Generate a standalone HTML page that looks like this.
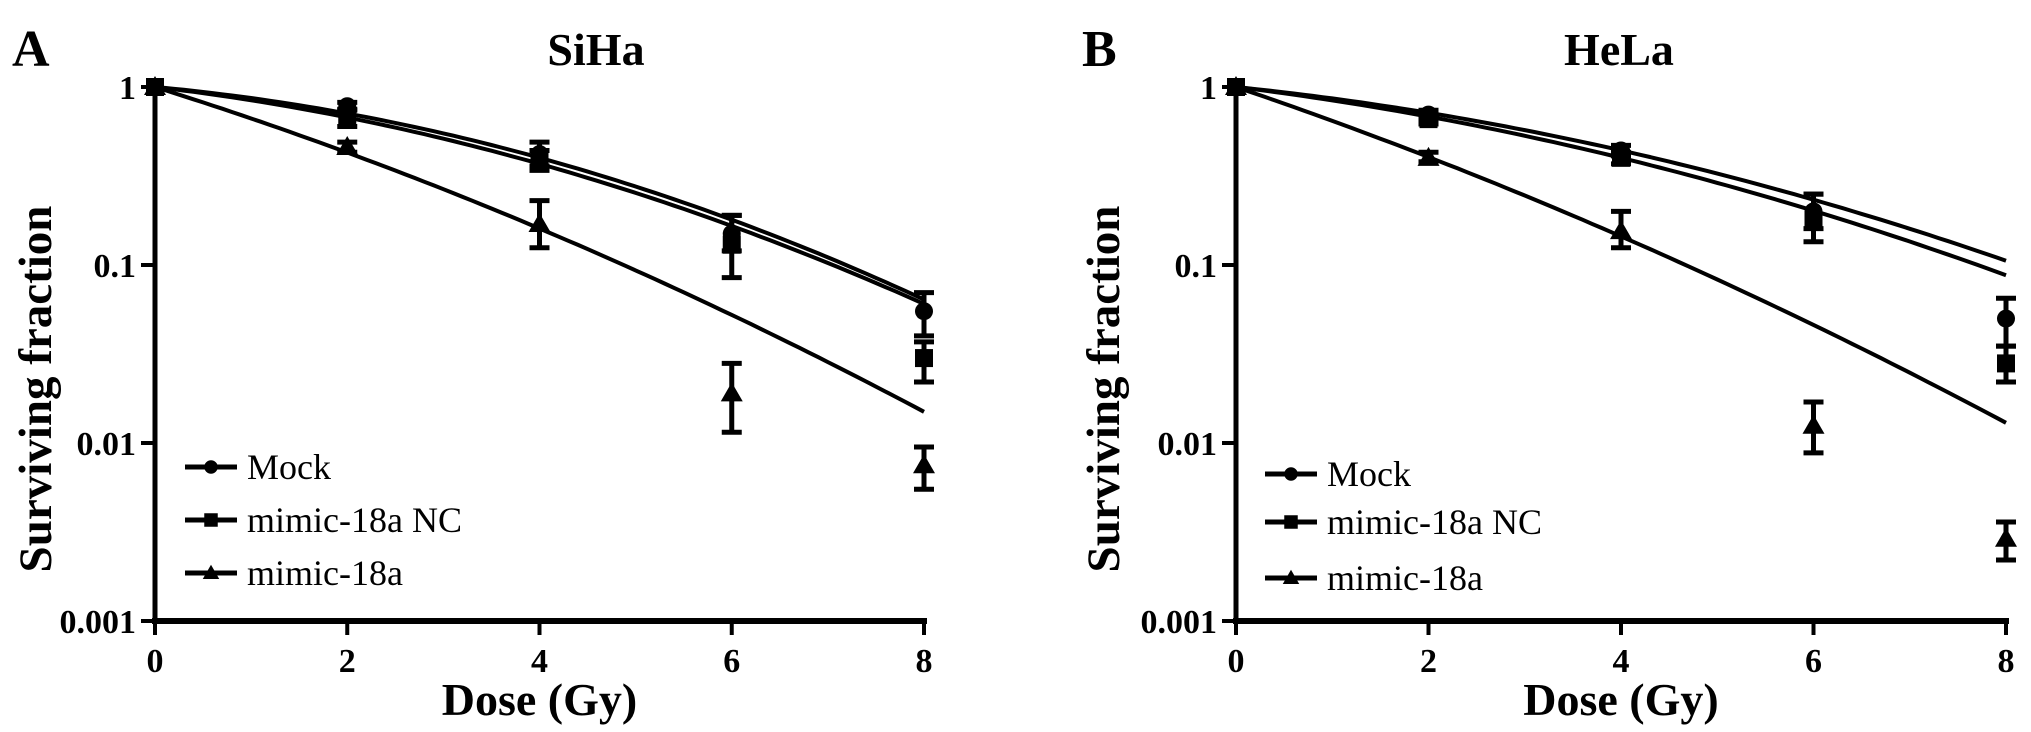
<!DOCTYPE html>
<html><head><meta charset="utf-8">
<style>
html,body{margin:0;padding:0;background:#fff;}
svg{display:block;font-family:"Liberation Serif",serif;}
</style></head>
<body>
<svg id="fig" width="2031" height="732" viewBox="0 0 2031 732" xmlns="http://www.w3.org/2000/svg"></svg>
<script>
const doses = [0, 2, 4, 6, 8];
const seriesNames = ["Mock", "mimic-18a NC", "mimic-18a"];
const markers = ["circle", "square", "triangle"];
const yTickValues = [1, 0.1, 0.01, 0.001];
const yTickLabels = ["1", "0.1", "0.01", "0.001"];
const xTickValues = [0, 2, 4, 6, 8];
const xTickLabels = ["0", "2", "4", "6", "8"];
// Panel A (SiHa)
const sihaMock = [1, 0.78, 0.42, 0.15, 0.055];
const sihaMockLo = [1, 0.74, 0.36, 0.12, 0.040];
const sihaMockHi = [1, 0.82, 0.49, 0.19, 0.070];
const sihaNC = [1, 0.68, 0.38, 0.13, 0.030];
const sihaNCLo = [1, 0.60, 0.34, 0.085, 0.022];
const sihaNCHi = [1, 0.75, 0.44, 0.19, 0.037];
const sihaMimic = [1, 0.46, 0.17, 0.019, 0.0075];
const sihaMimicLo = [1, 0.43, 0.125, 0.0115, 0.0055];
const sihaMimicHi = [1, 0.49, 0.23, 0.028, 0.0095];
const sihaAlpha = [0.114, 0.146, 0.39];
const sihaBeta = [0.0287, 0.0256, 0.0169];
// Panel B (HeLa)
const helaMock = [1, 0.70, 0.44, 0.20, 0.050];
const helaMockLo = [1, 0.66, 0.41, 0.16, 0.035];
const helaMockHi = [1, 0.74, 0.47, 0.25, 0.065];
const helaNC = [1, 0.66, 0.40, 0.18, 0.028];
const helaNCLo = [1, 0.62, 0.37, 0.135, 0.022];
const helaNCHi = [1, 0.70, 0.43, 0.25, 0.035];
const helaMimic = [1, 0.40, 0.155, 0.0125, 0.0029];
const helaMimicLo = [1, 0.38, 0.125, 0.0088, 0.0022];
const helaMimicHi = [1, 0.43, 0.20, 0.017, 0.0036];
const helaAlpha = [0.129, 0.154, 0.423];
const helaBeta = [0.019, 0.0188, 0.015];

const NS = "http://www.w3.org/2000/svg";
const svg = document.getElementById("fig");
function mk(tag, attrs, parent) {
  const e = document.createElementNS(NS, tag);
  for (const k in attrs) e.setAttribute(k, attrs[k]);
  (parent || svg).appendChild(e);
  return e;
}

const panels = [
  {letter: "A", title: "SiHa", x0: 155, x8: 924, titleX: 596, letterX: 12, yTitleX: 51, legX: 185, legY: [467, 520, 573],
   vals: [sihaMock, sihaNC, sihaMimic], lo: [sihaMockLo, sihaNCLo, sihaMimicLo], hi: [sihaMockHi, sihaNCHi, sihaMimicHi],
   alpha: sihaAlpha, beta: sihaBeta},
  {letter: "B", title: "HeLa", x0: 1236, x8: 2006, titleX: 1619, letterX: 1082, yTitleX: 1119, legX: 1265, legY: [474, 522, 578],
   vals: [helaMock, helaNC, helaMimic], lo: [helaMockLo, helaNCLo, helaMimicLo], hi: [helaMockHi, helaNCHi, helaMimicHi],
   alpha: helaAlpha, beta: helaBeta}
];
const yTop = 87, decade = 178, yBottom = 621;
function yScale(v) { return yTop - Math.log10(v) * decade; }

function drawMarker(g, type, cx, cy, s) {
  if (type === "circle") return mk("circle", {cx: cx, cy: cy, r: 9 * s, fill: "#000"}, g);
  if (type === "square") return mk("rect", {x: cx - 9 * s, y: cy - 9 * s, width: 18 * s, height: 18 * s, fill: "#000"}, g);
  return mk("polygon", {points: `${cx},${cy - 11 * s} ${cx + 11 * s},${cy + 8 * s} ${cx - 11 * s},${cy + 8 * s}`, fill: "#000"}, g);
}

panels.forEach((p, pi) => {
  const xs = v => p.x0 + (p.x8 - p.x0) * v / 8;
  const g = mk("g", {});
  
  

  let t = mk("text", {x: p.letterX, y: 66, "font-size": 52, "font-weight": "bold"}, g);
  t.textContent = p.letter;
  
  

  t = mk("text", {x: p.titleX, y: 65, "font-size": 46, "font-weight": "bold", "text-anchor": "middle"}, g);
  t.textContent = p.title;
  
  

  let a = mk("line", {x1: p.x0, y1: yTop - 3, x2: p.x0, y2: yBottom + 2, stroke: "#000", "stroke-width": 5}, g);
  
  
  a = mk("line", {x1: p.x0 - 3, y1: yBottom, x2: p.x8 + 3, y2: yBottom, stroke: "#000", "stroke-width": 6}, g);
  
  

  yTickValues.forEach((v, i) => {
    const y = yScale(v);
    const tk = mk("line", {x1: p.x0 - 14, y1: y, x2: p.x0, y2: y, stroke: "#000", "stroke-width": 4}, g);
    
    
    const lb = mk("text", {x: p.x0 - 19, y: y + 12, "font-size": 34, "font-weight": "bold", "text-anchor": "end"}, g);
    lb.textContent = yTickLabels[i];
    
    
  });
  xTickValues.forEach((v, i) => {
    const x = xs(v);
    const tk = mk("line", {x1: x, y1: yBottom, x2: x, y2: yBottom + 14, stroke: "#000", "stroke-width": 4}, g);
    
    
    const lb = mk("text", {x: x, y: 672, "font-size": 34, "font-weight": "bold", "text-anchor": "middle"}, g);
    lb.textContent = xTickLabels[i];
    
    
  });

  t = mk("text", {x: (p.x0 + p.x8) / 2, y: 715, "font-size": 46, "font-weight": "bold", "text-anchor": "middle"}, g);
  t.textContent = "Dose (Gy)";
  
  

  t = mk("text", {x: 0, y: 0, "font-size": 47, "font-weight": "bold", "text-anchor": "middle",
    transform: `translate(${p.yTitleX},${(yTop + yBottom) / 2 + 35}) rotate(-90)`}, g);
  t.textContent = "Surviving fraction";
  
  

  for (let s = 0; s < 3; s++) {
    let d = "";
    for (let k = 0; k <= 80; k++) {
      const D = k / 10;
      const S = Math.exp(-(p.alpha[s] * D + p.beta[s] * D * D));
      d += (k ? "L" : "M") + xs(D).toFixed(1) + "," + yScale(S).toFixed(1);
    }
    const c = mk("path", {d: d, fill: "none", stroke: "#000", "stroke-width": 4}, g);
    
    
  }
  for (let s = 0; s < 3; s++) {
    doses.forEach((D, i) => {
      const x = xs(D);
      if (p.lo[s][i] !== p.hi[s][i]) {
        const y1 = yScale(p.lo[s][i]), y2 = yScale(p.hi[s][i]);
        const eb = mk("path", {d: `M${x},${y1}V${y2}M${x - 10},${y1}H${x + 10}M${x - 10},${y2}H${x + 10}`, stroke: "#000", "stroke-width": 5, fill: "none"}, g);
        
        
      }
      const m = drawMarker(g, markers[s], x, yScale(p.vals[s][i]), 1);
      
      
    });
  }
  seriesNames.forEach((n, s) => {
    const lg = mk("g", {}, g);
    
    
    const y = p.legY[s];
    mk("line", {x1: p.legX, y1: y, x2: p.legX + 52, y2: y, stroke: "#000", "stroke-width": 5}, lg);
    drawMarker(lg, markers[s], p.legX + 26, y, 0.75);
    const lt = mk("text", {x: p.legX + 62, y: y + 12, "font-size": 36}, lg);
    lt.textContent = n;
  });
});
</script>
</body></html>
